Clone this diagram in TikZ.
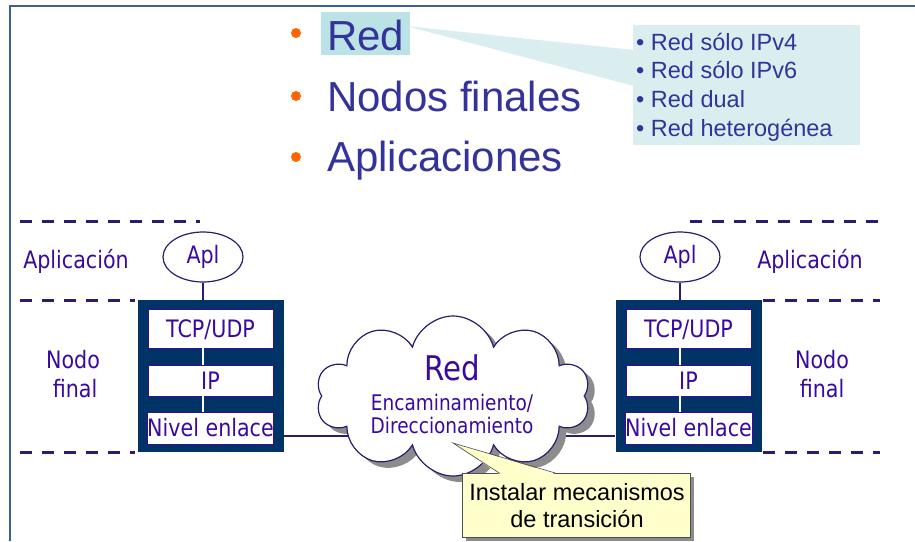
\documentclass[tikz,border=0pt]{standalone}
\usepackage{fontspec}
\setmainfont{Liberation Sans}
\newfontfamily\tah{DejaVu Sans}[FakeStretch=0.86]
\usetikzlibrary{shapes.symbols,shapes.geometric}
\definecolor{frameblue}{HTML}{3C5F95}
\definecolor{titleblue}{HTML}{333399}
\definecolor{lblpurple}{HTML}{3A0A9E}
\definecolor{navybox}{HTML}{003366}
\definecolor{dashcol}{HTML}{2E1A6E}
\definecolor{cyanhl}{HTML}{BBE2E4}
\definecolor{cyanbox}{HTML}{DAEEF0}
\definecolor{bulletcol}{HTML}{FF6600}
\definecolor{yellowbox}{HTML}{FFFFCC}
\definecolor{shadowgray}{HTML}{8C8C8C}
\tikzset{
  title/.style={anchor=base west, inner sep=0, text=titleblue, font=\fontsize{42}{42}\selectfont},
  sublist/.style={anchor=base west, inner sep=0, text=titleblue, font=\fontsize{23.5}{24}\selectfont},
  dashline/.style={draw=dashcol, line width=3pt, dash pattern=on 12pt off 10pt},
  lbl/.style={anchor=base, inner sep=0, text=lblpurple, font=\tah\fontsize{24}{24}\selectfont},
  layer/.style={draw=lblpurple, line width=0.6pt, fill=white, minimum width=125, inner sep=0,
     text height=17, text depth=0, text=lblpurple, font=\tah\fontsize{24}{24}\selectfont},
  outerbox/.style={fill=navybox, minimum width=146, minimum height=152, inner sep=0},
  apl/.style={ellipse, draw=dashcol, line width=1.2pt, fill=white, minimum width=80, minimum height=50,
     inner sep=0, text=lblpurple, font=\tah\fontsize{24}{24}\selectfont},
  link/.style={draw=dashcol, line width=1.2pt},
  cloudtxt/.style={anchor=base, inner sep=0, text=lblpurple},
  calltxt/.style={anchor=base, inner sep=0, text=black, font=\fontsize{23.5}{24}\selectfont},
  cloudshape/.style={cloud, cloud puffs=10, aspect=1.75, minimum width=274, minimum height=160, inner sep=0},
}
\begin{document}
\begin{tikzpicture}[x=1pt,y=-1pt]
\useasboundingbox (0,0) rectangle (915,541);
\fill[white] (0,0) rectangle (915,541);
% frame
\draw[frameblue, line width=2.2pt] (10,541) -- (10,6) -- (915,6);

% title list
\fill[cyanhl] (321,12) rectangle (410,55);
\fill[cyanbox] (406,26) -- (634,50) -- (634,86) -- cycle;
\node[fill=cyanbox, minimum width=227, minimum height=120, inner sep=0, anchor=north west] (listbox) at (633,25) {};
\fill[bulletcol] (296,33) circle (5);
\fill[bulletcol] (296,96) circle (5);
\fill[bulletcol] (296,157) circle (5);
\node[title] (tRed) at (327,50) {Red};
\node[title] (tNodos) at (327,111) {Nodos finales};
\node[title] (tApl) at (327,171) {Aplicaciones};
\node[sublist] (s1) at (636,50) {• Red sólo IPv4};
\node[sublist] (s2) at (636,78) {• Red sólo IPv6};
\node[sublist] (s3) at (636,107) {• Red dual};
\node[sublist] (s4) at (636,136) {• Red heterogénea};

% dashed layer lines
\draw[dashline] (20,221) -- (200,221);
\draw[dashline] (690,221) -- (880,221);
\draw[dashline] (20,300) -- (135,300);
\draw[dashline] (763,300) -- (880,300);
\draw[dashline] (20,452) -- (135,452);
\draw[dashline] (763,452) -- (880,452);

% side labels
\node[lbl] (aplL) at (76,268) {Aplicación};
\node[lbl] (nodoL) at (73,368) {Nodo};
\node[lbl] (finalL) at (75,397) {final};
\node[lbl] (aplR) at (810,268) {Aplicación};
\node[lbl] (nodoR) at (822,368) {Nodo};
\node[lbl] (finalR) at (822,397) {final};

% left node stack
\node[outerbox] (boxL) at (210.5,376) {};
\node[layer, minimum height=39] (tcpL) at (210.5,328.5) {TCP/UDP};
\node[layer, minimum height=31] (ipL) at (210.5,380.5) {IP};
\node[layer, minimum height=32] (nlL) at (210.5,428) {Nivel enlace};
\node[apl] (apL) at (203,257) {Apl};
\draw[link] (apL.south) -- (apL.south |- boxL.north);
\draw[white, line width=1.5pt] (tcpL.south -| apL.south) -- (ipL.north -| apL.south);
\draw[white, line width=1.5pt] (ipL.south -| apL.south) -- (nlL.north -| apL.south);

% right node stack
\node[outerbox] (boxR) at (688.5,376) {};
\node[layer, minimum height=39] (tcpR) at (688.5,328.5) {TCP/UDP};
\node[layer, minimum height=31] (ipR) at (688.5,380.5) {IP};
\node[layer, minimum height=32] (nlR) at (688.5,428) {Nivel enlace};
\node[apl] (apR) at (680,257) {Apl};
\draw[link] (apR.south) -- (apR.south |- boxR.north);
\draw[white, line width=1.5pt] (tcpR.south -| apR.south) -- (ipR.north -| apR.south);
\draw[white, line width=1.5pt] (ipR.south -| apR.south) -- (nlR.north -| apR.south);

% links to cloud
\coordinate (lk) at (450,436);
\draw[link] (boxL.east |- lk) -- (boxR.west |- lk);

% cloud
\node[cloudshape, fill=shadowgray] (cloudsh) at (460,402) {};
\node[cloudshape, draw=dashcol, line width=1.2pt, fill=white] (cloud) at (453,396) {};
\node[cloudtxt, font=\tah\fontsize{34}{34}\selectfont] (cRed) at (452,380) {Red};
\node[cloudtxt, font=\tah\fontsize{21.5}{22}\selectfont] (cEnc) at (452,410) {Encaminamiento/};
\node[cloudtxt, font=\tah\fontsize{21.5}{22}\selectfont] (cDir) at (452,433) {Direccionamiento};

% yellow callout
\fill[shadowgray] (466,477) rectangle (694,541);
\fill[shadowgray!70] (457,446) -- (506,478) -- (563,478) -- cycle;
\node[draw=black!70, line width=0.6pt, fill=yellowbox, minimum width=228, minimum height=64, inner sep=0, anchor=north west] (callout) at (462,473) {};
\fill[yellowbox] (500,474.5) -- (453,443) -- (557,474.5) -- cycle;
\draw[black!70, line width=0.6pt] (500,473.5) -- (453,443) -- (557,473.5);
\node[calltxt] (cl1) at (577,500) {Instalar mecanismos};
\node[calltxt] (cl2) at (577,527) {de transición};
\end{tikzpicture}
\end{document}
